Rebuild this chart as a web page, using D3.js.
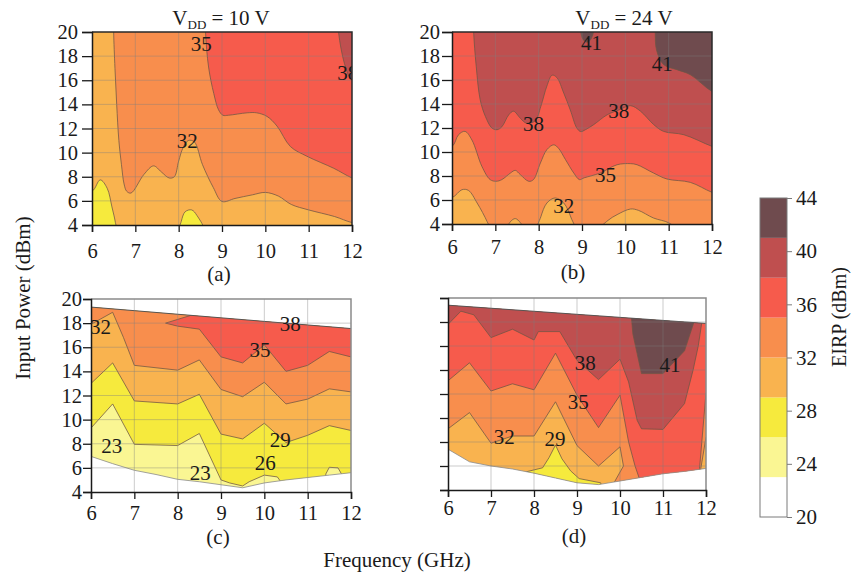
<!DOCTYPE html>
<html>
<head>
<meta charset="utf-8">
<script src="https://cdn.jsdelivr.net/npm/d3@7"></script>
<style>
  body { margin: 0; background: #fff; }
  svg { display: block; }
  text { font-family: "Liberation Serif", "Times New Roman", serif; fill: #1a1a1a; }
</style>
</head>
<body>
<svg id="chart" width="852" height="575"></svg>
<script>
// ---- EIRP bands (dBm) ----
const bandEdges = [20, 23, 26, 29, 32, 35, 38, 41, 44];
const bandColors = ["#ffffff", "#faf693", "#f6ea3d", "#f9b34f", "#f88e4d", "#f65b4c", "#bf4f4f", "#6f4b4e"];
const freqTicks = [6, 7, 8, 9, 10, 11, 12];
const powerTicks = [4, 6, 8, 10, 12, 14, 16, 18, 20];
const barTicks = [20, 24, 28, 32, 36, 40, 44];

// ---- (a) VDD = 10 V : regions as [GHz, dBm] outlines ----
const a26_left = [[5.6, 6.8], [6, 6.8], [6.19, 7.74], [6.35, 7.05], [6.46, 5.5], [6.54, 4.2], [6.56, 3.5], [5.6, 3.5]];
const a26_mid = [[8.02, 3.5], [8.06, 4.3], [8.15, 5.1], [8.3, 5.25], [8.42, 4.8], [8.58, 3.5]];
const a32 = [[6.5, 21.5], [6.5, 20], [6.53, 17], [6.57, 14], [6.62, 11], [6.68, 9], [6.74, 7.4], [6.8, 6.8], [6.9, 6.65],
  [7.2, 8.2], [7.42, 8.9], [7.6, 8.4], [7.78, 7.9], [7.9, 8.0], [8.0, 9.3], [8.1, 10.4], [8.22, 11.0], [8.36, 10.9],
  [8.55, 9.0], [8.8, 7.1], [9.0, 5.95], [9.3, 6.2], [9.7, 6.5], [10.0, 6.7], [10.3, 6.4], [10.6, 5.7], [11.0, 5.25],
  [11.6, 4.7], [12, 4.2], [12.4, 4.0], [12.4, 21.5]];
const a35 = [[8.62, 21.5], [8.62, 20], [8.69, 17.1], [8.81, 14.9], [8.92, 13.55], [9.02, 13.1], [9.15, 13.1], [9.58, 13.3],
  [9.8, 13.3], [10.04, 13.0], [10.27, 12.2], [10.58, 10.5], [10.96, 9.7], [11.58, 8.7], [12, 7.9], [12.4, 7.4], [12.4, 21.5]];
const a38 = [[11.69, 21.5], [11.69, 20], [11.85, 17.1], [12, 16.0], [12.4, 15.5], [12.4, 21.5]];
const aLabels = [[8.52, 19.0, "35"], [8.2, 11.0, "32"], [11.9, 16.6, "38"]];

// ---- (b) VDD = 24 V ----
const b29_p1 = [[5.6, 6.2], [6, 6.2], [6.23, 6.86], [6.38, 6.8], [6.58, 5.75], [6.81, 4.2], [6.88, 3.5], [5.6, 3.5]];
const b29_p2 = [[7.27, 3.5], [7.35, 4.2], [7.46, 4.45], [7.58, 4.1], [7.66, 3.5]];
const b29_p3 = [[7.98, 3.5], [8.05, 4.6], [8.19, 5.75], [8.38, 6.17], [8.58, 5.75], [8.75, 4.5], [8.83, 3.5]];
const b29_p4 = [[9.4, 3.5], [9.6, 4.3], [9.81, 4.78], [10.12, 5.25], [10.3, 5.14], [10.65, 4.5], [11.0, 4.1], [11.2, 3.5]];
const b35 = [[5.6, 10.47], [6, 10.47], [6.15, 11.44], [6.3, 11.72], [6.46, 11.0], [6.69, 8.8], [6.88, 7.7], [7.02, 7.56],
  [7.15, 7.7], [7.35, 8.25], [7.46, 8.47], [7.58, 8.1], [7.77, 7.56], [7.88, 7.7], [8.04, 9.08], [8.19, 10.2],
  [8.35, 10.6], [8.46, 10.3], [8.62, 9.36], [8.81, 8.25], [8.94, 7.7], [9.05, 7.85], [9.2, 8.0], [9.42, 8.25],
  [9.81, 8.94], [10.12, 9.03], [10.27, 8.94], [10.65, 8.25], [10.96, 7.75], [11.5, 7.47], [12, 6.64], [12.4, 6.2],
  [12.4, 21.5], [5.6, 21.5]];
const b38 = [[6.5, 21.5], [6.5, 20], [6.56, 17.1], [6.65, 14.36], [6.77, 12.97], [6.92, 12.0], [7.04, 11.86], [7.15, 12.1],
  [7.31, 13.1], [7.42, 13.4], [7.58, 12.8], [7.72, 12.4], [7.92, 12.6], [8.05, 13.8], [8.19, 15.5], [8.31, 16.4],
  [8.42, 16.2], [8.58, 14.9], [8.73, 13.5], [8.88, 12.0], [8.97, 11.7], [9.08, 11.86], [9.27, 12.28], [9.58, 13.1],
  [9.85, 13.5], [10.12, 13.86], [10.35, 13.4], [10.65, 12.3], [10.88, 11.72], [11.35, 11.44], [12, 10.47],
  [12.4, 10.0], [12.4, 21.5]];
const b41_top = [[8.98, 21], [9.02, 19.4], [9.12, 19.15], [9.22, 19.5], [9.27, 21]];
const b41_right = [[10.69, 21.5], [10.69, 20], [10.72, 18.5], [10.88, 17.3], [11.19, 16.86], [11.5, 16.44], [12, 15.05],
  [12.4, 14.5], [12.4, 21.5]];
const bLabels = [[9.22, 19.1, "41"], [10.85, 17.3, "41"], [7.88, 12.3, "38"], [9.85, 13.4, "38"], [9.54, 8.1, "35"], [8.58, 5.5, "32"]];

// ---- (c) measured range, VDD = 10 V ----
const cRangeTop = [[6, 19.33], [12, 17.55]];
const cRangeBottom = [[12, 5.6], [11.5, 5.4], [11, 5.2], [10.5, 5.0], [10, 4.75], [9.5, 4.35], [9, 4.6], [8.5, 4.85],
  [8, 5.05], [7.5, 5.45], [7, 5.8], [6.5, 6.35], [6, 6.95]];
const c26 = [[5.9, 9.3], [6, 9.3], [6.5, 11.3], [7, 7.95], [8, 7.85], [8.5, 8.85], [9, 5.0], [9.2, 4.75], [9.5, 4.5],
  [9.65, 4.85], [10.0, 5.4], [10.3, 5.25], [10.45, 4.5], [10.6, 3.9], [11.38, 3.9], [11.42, 5.5], [11.5, 6.05],
  [11.7, 6.0], [11.78, 5.5], [11.8, 3.9], [12.1, 3.9], [12.1, 21], [5.9, 21]];
const c29 = [[5.9, 13.0], [6, 13.0], [6.5, 14.7], [7, 11.55], [8, 11.3], [8.5, 12.1], [9, 8.8], [9.5, 8.4], [10, 9.7],
  [10.5, 8.1], [11, 8.7], [11.5, 9.5], [12, 9.1], [12.1, 9.1], [12.1, 21], [5.9, 21]];
const c32 = [[5.9, 17.9], [6, 17.9], [6.5, 18.9], [6.75, 16.8], [7, 14.5], [8, 14.1], [8.5, 14.95], [9, 12.5], [9.5, 11.9],
  [10, 13.1], [10.5, 11.3], [11, 11.7], [11.5, 12.55], [12, 12.3], [12.1, 12.3], [12.1, 21], [5.9, 21]];
const c35 = [[7.72, 18.0], [8.4, 18.75], [8.4, 21], [12.1, 21], [12.1, 15.2], [12, 15.2], [11.5, 15.65], [11, 14.5],
  [10.5, 14.0], [10, 16.2], [9.5, 14.7], [9, 15.2], [8.5, 17.5], [8, 17.75]];
const cLabels = [[6.22, 17.7, "32"], [10.6, 17.95, "38"], [9.9, 15.8, "35"], [10.37, 8.35, "29"], [10.02, 6.4, "26"],
  [6.48, 7.83, "23"], [8.52, 5.6, "23"]];

// ---- (d) measured range, VDD = 24 V ----
const dRangeTop = [[6, 19.4], [12, 17.88]];
const dRangeBottom = [[12, 5.8], [11.5, 5.55], [11, 5.35], [10.5, 5.05], [10, 4.75], [9.5, 4.45], [9, 4.6], [8.5, 5.0],
  [8, 5.4], [7.5, 5.75], [7, 6.0], [6.5, 6.35], [6, 7.4]];
const d26 = [[7.7, 3.9], [7.8, 5.5], [8.2, 5.85], [8.35, 6.7], [8.5, 7.75], [8.65, 6.6], [8.85, 5.6], [9.05, 4.95],
  [9.55, 4.6], [9.6, 3.9]];
const d32 = [[5.9, 9.1], [6, 9.1], [6.5, 10.45], [7, 7.9], [7.5, 8.5], [8, 8.5], [8.5, 11.35], [9, 7.7], [9.5, 6.0],
  [10, 7.6], [10.08, 6.0], [9.75, 3.9], [11.85, 3.9], [11.88, 5.8], [12, 8.4], [12.1, 8.4], [12.1, 21], [5.9, 21]];
const d35 = [[5.9, 13.1], [6, 13.1], [6.5, 14.6], [7, 12.25], [7.5, 12.85], [8, 12.35], [8.5, 15.4], [9, 11.9],
  [9.5, 9.2], [10, 11.9], [10.2, 8.0], [10.35, 6.0], [10.55, 3.9], [11.8, 3.9], [11.85, 5.8], [12, 12.1], [12.1, 12.1],
  [12.1, 21], [5.9, 21]];
const d38 = [[5.9, 17.8], [6, 17.8], [6.3, 18.9], [6.6, 18.6], [7, 16.7], [7.5, 17.4], [8, 16.5], [8.1, 17.2], [8.6, 17.2],
  [9, 14.8], [9.5, 13.2], [10, 14.9], [10.2, 13.0], [10.4, 9.8], [10.5, 9.1], [11, 9.05], [11.5, 11.2], [11.7, 14.0],
  [11.82, 16.0], [11.9, 17.9], [11.9, 21], [5.9, 21]];
const d41 = [[10.25, 21], [10.25, 19], [10.3, 17.0], [10.5, 13.7], [11, 13.7], [11.5, 15.6], [11.72, 18.0], [11.72, 21]];
const dLabels = [[9.19, 14.55, "38"], [11.16, 14.4, "41"], [9.03, 11.3, "35"], [7.31, 8.44, "32"], [8.49, 8.22, "29"]];

// ---- layout ----
const panels = [
  { id: "a", left: 92, top: 32, w: 260, h: 193, base: 29, smooth: true,
    shapes: [[26, a26_left], [26, a26_mid], [32, a32], [35, a35], [38, a38]], labels: aLabels,
    title: "10", titleX: 221, tag: "(a)", tagX: 219, tagY: 281, xPad: 11, yTick: 10, yPad: 4, yLabels: true, frame: "#2a2a2a" },
  { id: "b", left: 452, top: 32, w: 260, h: 192, base: 32, smooth: true,
    shapes: [[29, b29_p1], [29, b29_p2], [29, b29_p3], [29, b29_p4], [35, b35], [38, b38], [41, b41_top], [41, b41_right]],
    labels: bLabels, title: "24", titleX: 624, tag: "(b)", tagX: 573, tagY: 279, xPad: 8, yTick: 10, yPad: 2,
    yLabels: true, frame: "#2a2a2a" },
  { id: "c", left: 91, top: 299, w: 260, h: 193, base: 23, smooth: false, range: [cRangeTop, cRangeBottom],
    shapes: [[26, c26], [29, c29], [32, c32], [35, c35]], labels: cLabels,
    tag: "(c)", tagX: 218, tagY: 544, xPad: 6, yTick: 8, yPad: 1, yLabels: true, frame: "#8a8a8a" },
  { id: "d", left: 448, top: 298, w: 258, h: 192, base: 29, smooth: false, range: [dRangeTop, dRangeBottom],
    shapes: [[26, d26], [32, d32], [35, d35], [38, d38], [41, d41]], labels: dLabels,
    tag: "(d)", tagX: 574, tagY: 543, xPad: 3, yTick: 8, yPad: 1, yLabels: false, frame: "#8a8a8a" }
];

const svg = d3.select("#chart");
const defs = svg.append("defs");
const bandColor = d3.scaleThreshold().domain(bandEdges.slice(1, -1)).range(bandColors);
const contourStroke = "#6e5644";
const serif = "Liberation Serif, Times New Roman, serif";

panels.forEach(p => {
  const x = d3.scaleLinear().domain([6, 12]).range([p.left, p.left + p.w]);
  const y = d3.scaleLinear().domain([4, 20]).range([p.top + p.h, p.top]);
  const line = d3.line().x(d => x(d[0])).y(d => y(d[1]));
  const shapeLine = d3.line().x(d => x(d[0])).y(d => y(d[1]))
    .curve(p.smooth ? d3.curveCatmullRomClosed.alpha(0.5) : d3.curveLinearClosed);

  // clip: plot rectangle, and for (c)/(d) the measured range polygon
  defs.append("clipPath").attr("id", "rect-" + p.id)
    .append("rect").attr("x", p.left).attr("y", p.top).attr("width", p.w).attr("height", p.h);
  const rangePts = p.range ? p.range[0].concat(p.range[1]) : null;
  defs.append("clipPath").attr("id", "area-" + p.id)
    .append("path").attr("d", rangePts ? line(rangePts) + "Z" : line([[6, 4], [12, 4], [12, 20], [6, 20]]) + "Z");

  const g = svg.append("g");
  const fillG = g.append("g").attr("clip-path", `url(#rect-${p.id})`)
    .append("g").attr("clip-path", `url(#area-${p.id})`);

  fillG.append("rect").attr("x", p.left).attr("y", p.top).attr("width", p.w).attr("height", p.h)
    .attr("fill", bandColor(p.base));

  fillG.selectAll("path.region").data(p.shapes).join("path")
    .attr("class", "region")
    .attr("d", d => shapeLine(d[1]))
    .attr("fill", d => bandColor(d[0]))
    .attr("stroke", contourStroke).attr("stroke-width", 0.9).attr("stroke-opacity", 0.85)
    .attr("stroke-linejoin", "round");

  // outline of the measured range
  if (p.range) {
    g.append("path").attr("d", line(p.range[0])).attr("fill", "none")
      .attr("stroke", "#555").attr("stroke-width", 1);
    g.append("path").attr("d", line(p.range[1])).attr("fill", "none")
      .attr("stroke", "#8a8a8a").attr("stroke-width", 0.8);
  }

  // grid
  const grid = g.append("g").attr("stroke", "#808080").attr("stroke-opacity", 0.4).attr("stroke-width", 1);
  grid.selectAll("line.gx").data(freqTicks.slice(1, -1)).join("line").attr("class", "gx")
    .attr("x1", d => x(d)).attr("x2", d => x(d)).attr("y1", p.top).attr("y2", p.top + p.h);
  grid.selectAll("line.gy").data(powerTicks.slice(1, -1)).join("line").attr("class", "gy")
    .attr("y1", d => y(d)).attr("y2", d => y(d)).attr("x1", p.left).attr("x2", p.left + p.w);

  // contour value labels
  g.append("g").attr("clip-path", `url(#rect-${p.id})`)
    .selectAll("text").data(p.labels).join("text")
    .attr("x", d => x(d[0])).attr("y", d => y(d[1]))
    .attr("text-anchor", "middle").attr("dominant-baseline", "central")
    .attr("font-size", 21).text(d => d[2]);

  // frame
  g.append("path")
    .attr("d", `M${p.left},${p.top}H${p.left + p.w}V${p.top + p.h}`)
    .attr("fill", "none").attr("stroke", p.frame).attr("stroke-width", 1.5);

  // axes
  const xAxis = g.append("g").attr("transform", `translate(0,${p.top + p.h})`)
    .call(d3.axisBottom(x).tickValues(freqTicks).tickFormat(d3.format("d")).tickSize(7).tickPadding(p.xPad));
  const yAxis = g.append("g").attr("transform", `translate(${p.left},0)`)
    .call(d3.axisLeft(y).tickValues(powerTicks).tickSize(p.yTick).tickPadding(p.yPad)
      .tickFormat(p.yLabels ? d3.format("d") : () => ""));
  [xAxis, yAxis].forEach(ax => {
    ax.attr("font-family", serif);
    ax.select(".domain").attr("stroke", "#1a1a1a").attr("stroke-width", 1.5);
    ax.selectAll(".tick line").attr("stroke", "#1a1a1a").attr("stroke-width", 1.3);
    ax.selectAll(".tick text").attr("font-size", 20.5).attr("fill", "#1a1a1a");
  });

  // panel tag
  svg.append("text").attr("x", p.tagX).attr("y", p.tagY).attr("text-anchor", "middle")
    .attr("font-size", 21).text(p.tag);

  // supply voltage title
  if (p.title) {
    const t = svg.append("text").attr("x", p.titleX).attr("y", 25)
      .attr("text-anchor", "middle").attr("font-size", 21);
    t.append("tspan").text("V");
    t.append("tspan").attr("font-size", 13).attr("dy", 4).text("DD");
    t.append("tspan").attr("dy", -4).text(` = ${p.title} V`);
  }
});

// shared axis titles
svg.append("text").attr("transform", "translate(30,298) rotate(-90)").attr("text-anchor", "middle")
  .attr("font-size", 21).text("Input Power (dBm)");
svg.append("text").attr("x", 397).attr("y", 567).attr("text-anchor", "middle")
  .attr("font-size", 21).text("Frequency (GHz)");

// colour bar
const cb = { left: 760, w: 27, top: 198, bottom: 517 };
const cy = d3.scaleLinear().domain([20, 44]).range([cb.bottom, cb.top]);
const cbG = svg.append("g");
cbG.selectAll("rect").data(d3.range(bandEdges.length - 1)).join("rect")
  .attr("x", cb.left).attr("width", cb.w)
  .attr("y", i => cy(bandEdges[i + 1])).attr("height", i => cy(bandEdges[i]) - cy(bandEdges[i + 1]))
  .attr("fill", i => bandColors[i]);
cbG.append("rect").attr("x", cb.left).attr("y", cb.top).attr("width", cb.w).attr("height", cb.bottom - cb.top)
  .attr("fill", "none").attr("stroke", "#7a7a7a").attr("stroke-width", 1);
const cbAxis = cbG.append("g").attr("transform", `translate(${cb.left + cb.w},0)`)
  .call(d3.axisRight(cy).tickValues(barTicks).tickSize(5).tickPadding(4));
cbAxis.attr("font-family", serif);
cbAxis.select(".domain").remove();
cbAxis.selectAll(".tick line").attr("stroke", "#7a7a7a");
cbAxis.selectAll(".tick text").attr("font-size", 21).attr("fill", "#1a1a1a");
svg.append("text").attr("transform", "translate(839,317) rotate(-90)").attr("text-anchor", "middle")
  .attr("dominant-baseline", "central").attr("font-size", 20).text("EIRP (dBm)");
</script>
</body>
</html>
